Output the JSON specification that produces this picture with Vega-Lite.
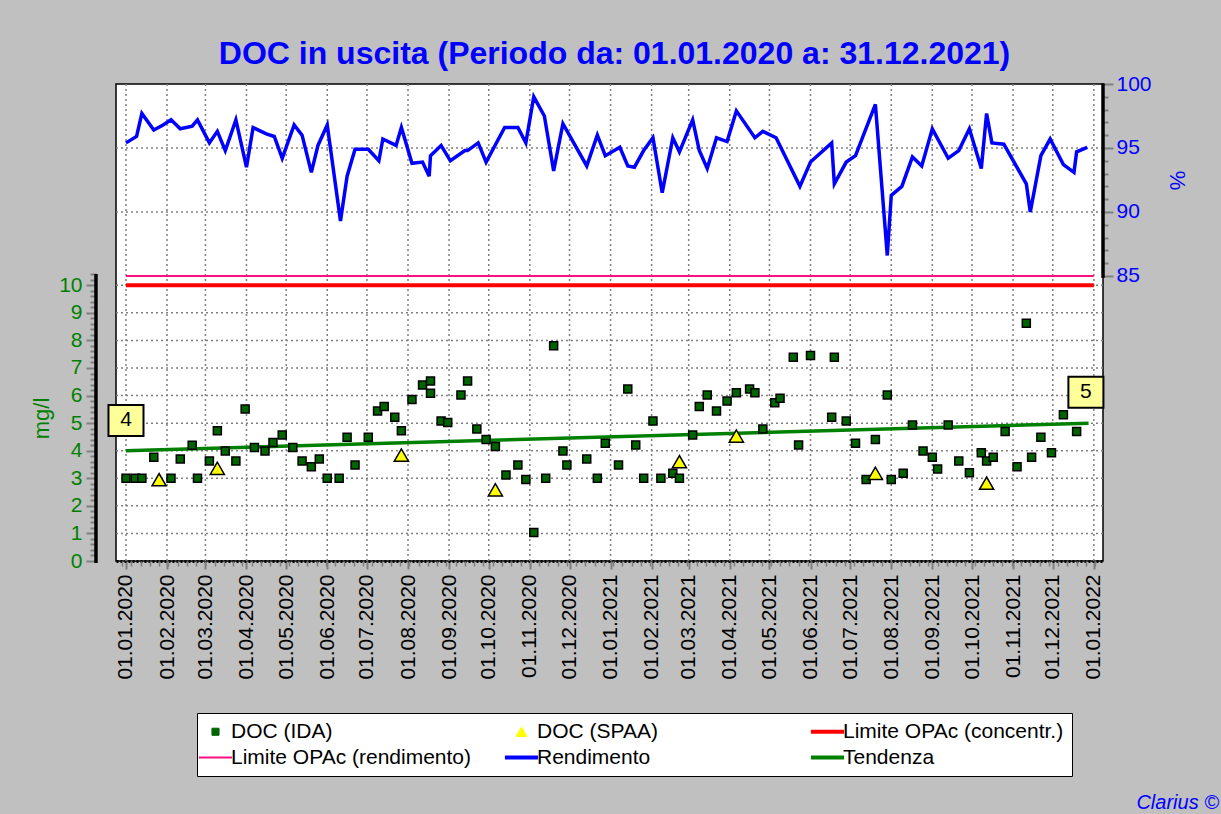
{
  "$schema": "https://vega.github.io/schema/vega-lite/v6.json",
  "width": 987,
  "height": 477,
  "autosize": {"type": "none"},
  "padding": {"left": 116, "top": 84, "right": 118, "bottom": 253},
  "background": "#c0c0c0",
  "config": {
    "view": {"stroke": "#000000", "strokeWidth": 1.5, "fill": "#ffffff"},
    "font": "Liberation Sans"
  },
  "title": {
    "text": "DOC in uscita (Periodo da: 01.01.2020 a: 31.12.2021)",
    "fontSize": 32,
    "fontWeight": "bold",
    "font": "Liberation Sans",
    "color": "#0000ff",
    "anchor": "middle",
    "offset": 2,
    "dx": 5
  },
  "datasets": {
    "ida": [
      {"date": "2020-01-01", "value": 3.0, "series": "DOC (IDA)"},
      {"date": "2020-01-08", "value": 3.0, "series": "DOC (IDA)"},
      {"date": "2020-01-13", "value": 3.0, "series": "DOC (IDA)"},
      {"date": "2020-01-22", "value": 3.76, "series": "DOC (IDA)"},
      {"date": "2020-02-04", "value": 3.0, "series": "DOC (IDA)"},
      {"date": "2020-02-11", "value": 3.7, "series": "DOC (IDA)"},
      {"date": "2020-02-20", "value": 4.2, "series": "DOC (IDA)"},
      {"date": "2020-02-24", "value": 3.0, "series": "DOC (IDA)"},
      {"date": "2020-03-04", "value": 3.63, "series": "DOC (IDA)"},
      {"date": "2020-03-10", "value": 4.72, "series": "DOC (IDA)"},
      {"date": "2020-03-16", "value": 3.99, "series": "DOC (IDA)"},
      {"date": "2020-03-24", "value": 3.63, "series": "DOC (IDA)"},
      {"date": "2020-03-31", "value": 5.51, "series": "DOC (IDA)"},
      {"date": "2020-04-07", "value": 4.12, "series": "DOC (IDA)"},
      {"date": "2020-04-15", "value": 3.99, "series": "DOC (IDA)"},
      {"date": "2020-04-21", "value": 4.3, "series": "DOC (IDA)"},
      {"date": "2020-04-28", "value": 4.57, "series": "DOC (IDA)"},
      {"date": "2020-05-06", "value": 4.12, "series": "DOC (IDA)"},
      {"date": "2020-05-13", "value": 3.63, "series": "DOC (IDA)"},
      {"date": "2020-05-20", "value": 3.42, "series": "DOC (IDA)"},
      {"date": "2020-05-26", "value": 3.7, "series": "DOC (IDA)"},
      {"date": "2020-06-01", "value": 3.0, "series": "DOC (IDA)"},
      {"date": "2020-06-10", "value": 3.0, "series": "DOC (IDA)"},
      {"date": "2020-06-16", "value": 4.49, "series": "DOC (IDA)"},
      {"date": "2020-06-22", "value": 3.48, "series": "DOC (IDA)"},
      {"date": "2020-07-02", "value": 4.49, "series": "DOC (IDA)"},
      {"date": "2020-07-09", "value": 5.44, "series": "DOC (IDA)"},
      {"date": "2020-07-14", "value": 5.6, "series": "DOC (IDA)"},
      {"date": "2020-07-22", "value": 5.21, "series": "DOC (IDA)"},
      {"date": "2020-07-27", "value": 4.72, "series": "DOC (IDA)"},
      {"date": "2020-08-04", "value": 5.86, "series": "DOC (IDA)"},
      {"date": "2020-08-12", "value": 6.38, "series": "DOC (IDA)"},
      {"date": "2020-08-18", "value": 6.53, "series": "DOC (IDA)"},
      {"date": "2020-08-18", "value": 6.08, "series": "DOC (IDA)"},
      {"date": "2020-08-26", "value": 5.08, "series": "DOC (IDA)"},
      {"date": "2020-08-31", "value": 5.02, "series": "DOC (IDA)"},
      {"date": "2020-09-10", "value": 6.02, "series": "DOC (IDA)"},
      {"date": "2020-09-15", "value": 6.53, "series": "DOC (IDA)"},
      {"date": "2020-09-22", "value": 4.79, "series": "DOC (IDA)"},
      {"date": "2020-09-29", "value": 4.41, "series": "DOC (IDA)"},
      {"date": "2020-10-06", "value": 4.15, "series": "DOC (IDA)"},
      {"date": "2020-10-14", "value": 3.12, "series": "DOC (IDA)"},
      {"date": "2020-10-23", "value": 3.48, "series": "DOC (IDA)"},
      {"date": "2020-10-29", "value": 2.96, "series": "DOC (IDA)"},
      {"date": "2020-11-04", "value": 1.03, "series": "DOC (IDA)"},
      {"date": "2020-11-13", "value": 3.0, "series": "DOC (IDA)"},
      {"date": "2020-11-19", "value": 7.81, "series": "DOC (IDA)"},
      {"date": "2020-11-26", "value": 3.99, "series": "DOC (IDA)"},
      {"date": "2020-11-29", "value": 3.48, "series": "DOC (IDA)"},
      {"date": "2020-12-14", "value": 3.7, "series": "DOC (IDA)"},
      {"date": "2020-12-22", "value": 3.0, "series": "DOC (IDA)"},
      {"date": "2020-12-28", "value": 4.27, "series": "DOC (IDA)"},
      {"date": "2021-01-07", "value": 3.48, "series": "DOC (IDA)"},
      {"date": "2021-01-14", "value": 6.24, "series": "DOC (IDA)"},
      {"date": "2021-01-20", "value": 4.21, "series": "DOC (IDA)"},
      {"date": "2021-01-26", "value": 3.0, "series": "DOC (IDA)"},
      {"date": "2021-02-02", "value": 5.08, "series": "DOC (IDA)"},
      {"date": "2021-02-08", "value": 3.0, "series": "DOC (IDA)"},
      {"date": "2021-02-17", "value": 3.18, "series": "DOC (IDA)"},
      {"date": "2021-02-22", "value": 3.0, "series": "DOC (IDA)"},
      {"date": "2021-03-04", "value": 4.57, "series": "DOC (IDA)"},
      {"date": "2021-03-09", "value": 5.6, "series": "DOC (IDA)"},
      {"date": "2021-03-15", "value": 6.02, "series": "DOC (IDA)"},
      {"date": "2021-03-22", "value": 5.44, "series": "DOC (IDA)"},
      {"date": "2021-03-30", "value": 5.8, "series": "DOC (IDA)"},
      {"date": "2021-04-06", "value": 6.1, "series": "DOC (IDA)"},
      {"date": "2021-04-16", "value": 6.24, "series": "DOC (IDA)"},
      {"date": "2021-04-20", "value": 6.1, "series": "DOC (IDA)"},
      {"date": "2021-04-26", "value": 4.79, "series": "DOC (IDA)"},
      {"date": "2021-05-05", "value": 5.74, "series": "DOC (IDA)"},
      {"date": "2021-05-09", "value": 5.9, "series": "DOC (IDA)"},
      {"date": "2021-05-19", "value": 7.39, "series": "DOC (IDA)"},
      {"date": "2021-05-23", "value": 4.21, "series": "DOC (IDA)"},
      {"date": "2021-06-01", "value": 7.45, "series": "DOC (IDA)"},
      {"date": "2021-06-17", "value": 5.21, "series": "DOC (IDA)"},
      {"date": "2021-06-19", "value": 7.39, "series": "DOC (IDA)"},
      {"date": "2021-06-28", "value": 5.08, "series": "DOC (IDA)"},
      {"date": "2021-07-05", "value": 4.27, "series": "DOC (IDA)"},
      {"date": "2021-07-13", "value": 2.96, "series": "DOC (IDA)"},
      {"date": "2021-07-20", "value": 4.41, "series": "DOC (IDA)"},
      {"date": "2021-07-29", "value": 6.02, "series": "DOC (IDA)"},
      {"date": "2021-08-01", "value": 2.96, "series": "DOC (IDA)"},
      {"date": "2021-08-10", "value": 3.18, "series": "DOC (IDA)"},
      {"date": "2021-08-17", "value": 4.93, "series": "DOC (IDA)"},
      {"date": "2021-08-25", "value": 3.99, "series": "DOC (IDA)"},
      {"date": "2021-09-01", "value": 3.76, "series": "DOC (IDA)"},
      {"date": "2021-09-05", "value": 3.34, "series": "DOC (IDA)"},
      {"date": "2021-09-13", "value": 4.93, "series": "DOC (IDA)"},
      {"date": "2021-09-21", "value": 3.63, "series": "DOC (IDA)"},
      {"date": "2021-09-29", "value": 3.2, "series": "DOC (IDA)"},
      {"date": "2021-10-08", "value": 3.93, "series": "DOC (IDA)"},
      {"date": "2021-10-12", "value": 3.63, "series": "DOC (IDA)"},
      {"date": "2021-10-17", "value": 3.76, "series": "DOC (IDA)"},
      {"date": "2021-10-26", "value": 4.7, "series": "DOC (IDA)"},
      {"date": "2021-11-04", "value": 3.42, "series": "DOC (IDA)"},
      {"date": "2021-11-11", "value": 8.62, "series": "DOC (IDA)"},
      {"date": "2021-11-15", "value": 3.76, "series": "DOC (IDA)"},
      {"date": "2021-11-22", "value": 4.49, "series": "DOC (IDA)"},
      {"date": "2021-11-30", "value": 3.93, "series": "DOC (IDA)"},
      {"date": "2021-12-09", "value": 5.3, "series": "DOC (IDA)"},
      {"date": "2021-12-19", "value": 4.7, "series": "DOC (IDA)"}
    ],
    "spaa": [
      {"date": "2020-01-26", "value": 2.95, "series": "DOC (SPAA)"},
      {"date": "2020-03-10", "value": 3.36, "series": "DOC (SPAA)"},
      {"date": "2020-07-27", "value": 3.84, "series": "DOC (SPAA)"},
      {"date": "2020-10-06", "value": 2.58, "series": "DOC (SPAA)"},
      {"date": "2021-02-22", "value": 3.6, "series": "DOC (SPAA)"},
      {"date": "2021-04-06", "value": 4.53, "series": "DOC (SPAA)"},
      {"date": "2021-07-20", "value": 3.18, "series": "DOC (SPAA)"},
      {"date": "2021-10-12", "value": 2.82, "series": "DOC (SPAA)"}
    ],
    "rend": [
      {"date": "2020-01-01", "value": 95.4, "series": "Rendimento"},
      {"date": "2020-01-09", "value": 95.9, "series": "Rendimento"},
      {"date": "2020-01-13", "value": 97.7, "series": "Rendimento"},
      {"date": "2020-01-22", "value": 96.4, "series": "Rendimento"},
      {"date": "2020-01-29", "value": 96.8, "series": "Rendimento"},
      {"date": "2020-02-04", "value": 97.2, "series": "Rendimento"},
      {"date": "2020-02-11", "value": 96.5, "series": "Rendimento"},
      {"date": "2020-02-20", "value": 96.7, "series": "Rendimento"},
      {"date": "2020-02-24", "value": 97.2, "series": "Rendimento"},
      {"date": "2020-03-04", "value": 95.4, "series": "Rendimento"},
      {"date": "2020-03-10", "value": 96.3, "series": "Rendimento"},
      {"date": "2020-03-16", "value": 94.8, "series": "Rendimento"},
      {"date": "2020-03-24", "value": 97.2, "series": "Rendimento"},
      {"date": "2020-04-01", "value": 93.5, "series": "Rendimento"},
      {"date": "2020-04-06", "value": 96.6, "series": "Rendimento"},
      {"date": "2020-04-16", "value": 96.1, "series": "Rendimento"},
      {"date": "2020-04-22", "value": 95.9, "series": "Rendimento"},
      {"date": "2020-04-28", "value": 94.2, "series": "Rendimento"},
      {"date": "2020-05-07", "value": 96.8, "series": "Rendimento"},
      {"date": "2020-05-13", "value": 96.0, "series": "Rendimento"},
      {"date": "2020-05-20", "value": 93.1, "series": "Rendimento"},
      {"date": "2020-05-25", "value": 95.2, "series": "Rendimento"},
      {"date": "2020-06-01", "value": 96.8, "series": "Rendimento"},
      {"date": "2020-06-11", "value": 89.3, "series": "Rendimento"},
      {"date": "2020-06-16", "value": 92.8, "series": "Rendimento"},
      {"date": "2020-06-22", "value": 94.9, "series": "Rendimento"},
      {"date": "2020-07-02", "value": 94.9, "series": "Rendimento"},
      {"date": "2020-07-10", "value": 94.0, "series": "Rendimento"},
      {"date": "2020-07-13", "value": 95.7, "series": "Rendimento"},
      {"date": "2020-07-23", "value": 95.2, "series": "Rendimento"},
      {"date": "2020-07-27", "value": 96.6, "series": "Rendimento"},
      {"date": "2020-08-04", "value": 93.8, "series": "Rendimento"},
      {"date": "2020-08-12", "value": 93.9, "series": "Rendimento"},
      {"date": "2020-08-17", "value": 92.8, "series": "Rendimento"},
      {"date": "2020-08-18", "value": 94.4, "series": "Rendimento"},
      {"date": "2020-08-26", "value": 95.2, "series": "Rendimento"},
      {"date": "2020-09-02", "value": 94.0, "series": "Rendimento"},
      {"date": "2020-09-13", "value": 94.8, "series": "Rendimento"},
      {"date": "2020-09-15", "value": 94.8, "series": "Rendimento"},
      {"date": "2020-09-23", "value": 95.4, "series": "Rendimento"},
      {"date": "2020-09-29", "value": 93.9, "series": "Rendimento"},
      {"date": "2020-10-13", "value": 96.6, "series": "Rendimento"},
      {"date": "2020-10-23", "value": 96.6, "series": "Rendimento"},
      {"date": "2020-10-29", "value": 95.4, "series": "Rendimento"},
      {"date": "2020-11-04", "value": 99.0, "series": "Rendimento"},
      {"date": "2020-11-12", "value": 97.5, "series": "Rendimento"},
      {"date": "2020-11-19", "value": 93.2, "series": "Rendimento"},
      {"date": "2020-11-26", "value": 96.9, "series": "Rendimento"},
      {"date": "2020-12-14", "value": 93.6, "series": "Rendimento"},
      {"date": "2020-12-22", "value": 96.0, "series": "Rendimento"},
      {"date": "2020-12-28", "value": 94.4, "series": "Rendimento"},
      {"date": "2021-01-08", "value": 95.05, "series": "Rendimento"},
      {"date": "2021-01-14", "value": 93.6, "series": "Rendimento"},
      {"date": "2021-01-19", "value": 93.5, "series": "Rendimento"},
      {"date": "2021-01-26", "value": 94.8, "series": "Rendimento"},
      {"date": "2021-02-02", "value": 95.8, "series": "Rendimento"},
      {"date": "2021-02-09", "value": 91.5, "series": "Rendimento"},
      {"date": "2021-02-17", "value": 95.8, "series": "Rendimento"},
      {"date": "2021-02-22", "value": 94.7, "series": "Rendimento"},
      {"date": "2021-03-04", "value": 97.2, "series": "Rendimento"},
      {"date": "2021-03-09", "value": 94.8, "series": "Rendimento"},
      {"date": "2021-03-15", "value": 93.4, "series": "Rendimento"},
      {"date": "2021-03-22", "value": 95.8, "series": "Rendimento"},
      {"date": "2021-03-30", "value": 95.5, "series": "Rendimento"},
      {"date": "2021-04-06", "value": 97.9, "series": "Rendimento"},
      {"date": "2021-04-20", "value": 95.8, "series": "Rendimento"},
      {"date": "2021-04-26", "value": 96.3, "series": "Rendimento"},
      {"date": "2021-05-06", "value": 95.8, "series": "Rendimento"},
      {"date": "2021-05-24", "value": 92.0, "series": "Rendimento"},
      {"date": "2021-06-01", "value": 93.9, "series": "Rendimento"},
      {"date": "2021-06-17", "value": 95.4, "series": "Rendimento"},
      {"date": "2021-06-19", "value": 92.2, "series": "Rendimento"},
      {"date": "2021-06-28", "value": 93.9, "series": "Rendimento"},
      {"date": "2021-07-05", "value": 94.4, "series": "Rendimento"},
      {"date": "2021-07-20", "value": 98.4, "series": "Rendimento"},
      {"date": "2021-07-29", "value": 86.6, "series": "Rendimento"},
      {"date": "2021-08-01", "value": 91.3, "series": "Rendimento"},
      {"date": "2021-08-09", "value": 92.0, "series": "Rendimento"},
      {"date": "2021-08-17", "value": 94.3, "series": "Rendimento"},
      {"date": "2021-08-24", "value": 93.6, "series": "Rendimento"},
      {"date": "2021-09-01", "value": 96.5, "series": "Rendimento"},
      {"date": "2021-09-13", "value": 94.2, "series": "Rendimento"},
      {"date": "2021-09-21", "value": 94.8, "series": "Rendimento"},
      {"date": "2021-09-29", "value": 96.5, "series": "Rendimento"},
      {"date": "2021-10-08", "value": 93.4, "series": "Rendimento"},
      {"date": "2021-10-12", "value": 97.7, "series": "Rendimento"},
      {"date": "2021-10-16", "value": 95.4, "series": "Rendimento"},
      {"date": "2021-10-25", "value": 95.3, "series": "Rendimento"},
      {"date": "2021-11-11", "value": 92.2, "series": "Rendimento"},
      {"date": "2021-11-14", "value": 90.0, "series": "Rendimento"},
      {"date": "2021-11-22", "value": 94.4, "series": "Rendimento"},
      {"date": "2021-11-29", "value": 95.7, "series": "Rendimento"},
      {"date": "2021-12-09", "value": 93.7, "series": "Rendimento"},
      {"date": "2021-12-17", "value": 93.1, "series": "Rendimento"},
      {"date": "2021-12-19", "value": 94.7, "series": "Rendimento"},
      {"date": "2021-12-27", "value": 95.05, "series": "Rendimento"}
    ],
    "lim_c": [
      {"date": "2020-01-01", "value": 10, "series": "Limite OPAc (concentr.)"},
      {"date": "2022-01-01", "value": 10, "series": "Limite OPAc (concentr.)"}
    ],
    "lim_r": [
      {"date": "2020-01-01", "value": 85, "series": "Limite OPAc (rendimento)"},
      {"date": "2022-01-01", "value": 85, "series": "Limite OPAc (rendimento)"}
    ],
    "trend": [
      {"date": "2020-01-01", "value": 4.0, "series": "Tendenza"},
      {"date": "2021-12-28", "value": 5.0, "series": "Tendenza"}
    ],
    "boxes": [
      {"date": "2020-01-01", "value": 5.1, "label": "4"},
      {"date": "2021-12-26", "value": 6.12, "label": "5"}
    ],
    "grid_v": [
      {"date": "2020-01-01", "value": 0, "g": "m01"}, {"date": "2020-01-01", "value": 17.3, "g": "m01"},
      {"date": "2020-02-01", "value": 0, "g": "m02"}, {"date": "2020-02-01", "value": 17.3, "g": "m02"},
      {"date": "2020-03-01", "value": 0, "g": "m03"}, {"date": "2020-03-01", "value": 17.3, "g": "m03"},
      {"date": "2020-04-01", "value": 0, "g": "m04"}, {"date": "2020-04-01", "value": 17.3, "g": "m04"},
      {"date": "2020-05-01", "value": 0, "g": "m05"}, {"date": "2020-05-01", "value": 17.3, "g": "m05"},
      {"date": "2020-06-01", "value": 0, "g": "m06"}, {"date": "2020-06-01", "value": 17.3, "g": "m06"},
      {"date": "2020-07-01", "value": 0, "g": "m07"}, {"date": "2020-07-01", "value": 17.3, "g": "m07"},
      {"date": "2020-08-01", "value": 0, "g": "m08"}, {"date": "2020-08-01", "value": 17.3, "g": "m08"},
      {"date": "2020-09-01", "value": 0, "g": "m09"}, {"date": "2020-09-01", "value": 17.3, "g": "m09"},
      {"date": "2020-10-01", "value": 0, "g": "m10"}, {"date": "2020-10-01", "value": 17.3, "g": "m10"},
      {"date": "2020-11-01", "value": 0, "g": "m11"}, {"date": "2020-11-01", "value": 17.3, "g": "m11"},
      {"date": "2020-12-01", "value": 0, "g": "m12"}, {"date": "2020-12-01", "value": 17.3, "g": "m12"},
      {"date": "2021-01-01", "value": 0, "g": "m13"}, {"date": "2021-01-01", "value": 17.3, "g": "m13"},
      {"date": "2021-02-01", "value": 0, "g": "m14"}, {"date": "2021-02-01", "value": 17.3, "g": "m14"},
      {"date": "2021-03-01", "value": 0, "g": "m15"}, {"date": "2021-03-01", "value": 17.3, "g": "m15"},
      {"date": "2021-04-01", "value": 0, "g": "m16"}, {"date": "2021-04-01", "value": 17.3, "g": "m16"},
      {"date": "2021-05-01", "value": 0, "g": "m17"}, {"date": "2021-05-01", "value": 17.3, "g": "m17"},
      {"date": "2021-06-01", "value": 0, "g": "m18"}, {"date": "2021-06-01", "value": 17.3, "g": "m18"},
      {"date": "2021-07-01", "value": 0, "g": "m19"}, {"date": "2021-07-01", "value": 17.3, "g": "m19"},
      {"date": "2021-08-01", "value": 0, "g": "m20"}, {"date": "2021-08-01", "value": 17.3, "g": "m20"},
      {"date": "2021-09-01", "value": 0, "g": "m21"}, {"date": "2021-09-01", "value": 17.3, "g": "m21"},
      {"date": "2021-10-01", "value": 0, "g": "m22"}, {"date": "2021-10-01", "value": 17.3, "g": "m22"},
      {"date": "2021-11-01", "value": 0, "g": "m23"}, {"date": "2021-11-01", "value": 17.3, "g": "m23"},
      {"date": "2021-12-01", "value": 0, "g": "m24"}, {"date": "2021-12-01", "value": 17.3, "g": "m24"},
      {"date": "2022-01-01", "value": 0, "g": "m25"}, {"date": "2022-01-01", "value": 17.3, "g": "m25"}
    ],
    "grid_h": [
      {"date": "2019-12-24T11:00:00Z", "value": 1, "g": "h1"}, {"date": "2022-01-07T22:00:00Z", "value": 1, "g": "h1"},
      {"date": "2019-12-24T11:00:00Z", "value": 2, "g": "h2"}, {"date": "2022-01-07T22:00:00Z", "value": 2, "g": "h2"},
      {"date": "2019-12-24T11:00:00Z", "value": 3, "g": "h3"}, {"date": "2022-01-07T22:00:00Z", "value": 3, "g": "h3"},
      {"date": "2019-12-24T11:00:00Z", "value": 4, "g": "h4"}, {"date": "2022-01-07T22:00:00Z", "value": 4, "g": "h4"},
      {"date": "2019-12-24T11:00:00Z", "value": 5, "g": "h5"}, {"date": "2022-01-07T22:00:00Z", "value": 5, "g": "h5"},
      {"date": "2019-12-24T11:00:00Z", "value": 6, "g": "h6"}, {"date": "2022-01-07T22:00:00Z", "value": 6, "g": "h6"},
      {"date": "2019-12-24T11:00:00Z", "value": 7, "g": "h7"}, {"date": "2022-01-07T22:00:00Z", "value": 7, "g": "h7"},
      {"date": "2019-12-24T11:00:00Z", "value": 8, "g": "h8"}, {"date": "2022-01-07T22:00:00Z", "value": 8, "g": "h8"},
      {"date": "2019-12-24T11:00:00Z", "value": 9, "g": "h9"}, {"date": "2022-01-07T22:00:00Z", "value": 9, "g": "h9"},
      {"date": "2019-12-24T11:00:00Z", "value": 10, "g": "h10"}, {"date": "2022-01-07T22:00:00Z", "value": 10, "g": "h10"}
    ],
    "grid_p": [
      {"date": "2019-12-24T11:00:00Z", "value": 90, "g": "p90"}, {"date": "2022-01-07T22:00:00Z", "value": 90, "g": "p90"},
      {"date": "2019-12-24T11:00:00Z", "value": 95, "g": "p95"}, {"date": "2022-01-07T22:00:00Z", "value": 95, "g": "p95"}
    ],
    "one": [{}]
  },
  "layer": [
    {
      "layer": [
        {
          "data": {"name": "grid_v"},
          "mark": {"type": "line", "color": "#808080", "strokeWidth": 1.5, "strokeDash": [2, 3]},
          "encoding": {
            "x": {"field": "date", "type": "temporal", "axis": null},
            "y": {"field": "value", "type": "quantitative", "axis": null},
            "detail": {"field": "g", "type": "nominal"}
          }
        },
        {
          "data": {"name": "grid_h"},
          "mark": {"type": "line", "color": "#808080", "strokeWidth": 1.5, "strokeDash": [2, 3]},
          "encoding": {
            "x": {"field": "date", "type": "temporal", "axis": null},
            "y": {"field": "value", "type": "quantitative", "axis": null},
            "detail": {"field": "g", "type": "nominal"}
          }
        },
        {
          "data": {"name": "lim_c"},
          "mark": {"type": "line", "strokeWidth": 4},
          "encoding": {
            "x": {
              "field": "date", "type": "temporal",
              "scale": {"type": "utc", "domain": [{"year": 2019, "month": 12, "date": 24, "hours": 11, "utc": true}, {"year": 2022, "month": 1, "date": 7, "hours": 22, "utc": true}]},
              "axis": {
                "orient": "bottom", "tickCount": {"interval": "month", "step": 1}, "format": "%d.%m.%Y",
                "labelAngle": 270, "labelFontSize": 21, "labelColor": "#000000", "labelFont": "Liberation Sans", "labelPadding": 5,
                "tickSize": 8, "tickColor": "#808080", "tickWidth": 2, "grid": false,
                "domain": true, "domainColor": "#000000", "domainWidth": 3, "domainDash": [2, 2],
                "title": null, "labelOverlap": false, "labelFlush": false, "labelBound": false
              }
            },
            "y": {
              "field": "value", "type": "quantitative",
              "scale": {"domain": [0, 17.3], "nice": false, "zero": false},
              "axis": {
                "orient": "left", "offset": 20, "domain": false, "grid": false,
                "values": [0,0.2,0.4,0.6,0.8,1,1.2,1.4,1.6,1.8,2,2.2,2.4,2.6,2.8,3,3.2,3.4,3.6,3.8,4,4.2,4.4,4.6,4.8,5,5.2,5.4,5.6,5.8,6,6.2,6.4,6.6,6.8,7,7.2,7.4,7.6,7.8,8,8.2,8.4,8.6,8.8,9,9.2,9.4,9.6,9.8,10,10.2,10.4],
                "labelExpr": "abs(datum.value - round(datum.value)) < 0.01 ? '' + round(datum.value) : ''",
                "labelFontSize": 21, "labelColor": "#008000", "labelFont": "Liberation Sans", "labelPadding": 4,
                "labelOverlap": false, "labelFlush": false, "labelBound": false,
                "tickColor": "#808080", "tickWidth": 2,
                "tickSize": {"condition": {"test": "abs(datum.value - round(datum.value)) < 0.01", "value": 10}, "value": 6},
                "title": "mg/l", "titleFontSize": 22, "titleColor": "#008000", "titleFontWeight": "normal", "titleFont": "Liberation Sans",
                "titlePadding": 5, "titleY": 334
              }
            },
            "color": {
              "field": "series", "type": "nominal",
              "scale": {
                "domain": ["DOC (IDA)", "Limite OPAc (rendimento)", "DOC (SPAA)", "Rendimento", "Limite OPAc (concentr.)", "Tendenza"],
                "range": ["#006400", "#ff1080", "#ffff00", "#0000ff", "#ff0000", "#008000"]
              },
              "legend": {
                "orient": "none", "legendX": 81, "legendY": 629, "columns": 3, "title": null,
                "labelFontSize": 21, "labelFont": "Liberation Sans", "labelColor": "#000000", "labelLimit": 400,
                "symbolSize": 1100, "gridAlign": "all", "columnPadding": 24, "rowPadding": 4, "padding": 8,
                "strokeColor": "#000000", "fillColor": "#ffffff", "labelOffset": 5,
                "encode": {
                  "symbols": {
                    "update": {
                      "shape": {"signal": "datum.value === 'DOC (IDA)' ? 'square' : datum.value === 'DOC (SPAA)' ? 'triangle-up' : 'stroke'"},
                      "size": {"signal": "datum.value === 'DOC (IDA)' ? 50 : datum.value === 'DOC (SPAA)' ? 120 : 1100"},
                      "fill": {"signal": "datum.value === 'DOC (IDA)' ? '#006400' : datum.value === 'DOC (SPAA)' ? '#ffff00' : 'transparent'"},
                      "stroke": {"signal": "datum.value === 'DOC (IDA)' || datum.value === 'DOC (SPAA)' ? '#000000' : datum.value === 'Limite OPAc (concentr.)' ? '#ff0000' : datum.value === 'Limite OPAc (rendimento)' ? '#ff1080' : datum.value === 'Rendimento' ? '#0000ff' : '#008000'"},
                      "strokeWidth": {"signal": "datum.value === 'DOC (IDA)' || datum.value === 'DOC (SPAA)' ? 1 : datum.value === 'Limite OPAc (rendimento)' ? 2 : 4"},
                      "opacity": {"value": 1}
                    }
                  }
                }
              }
            }
          }
        },
        {
          "data": {"name": "trend"},
          "mark": {"type": "line", "strokeWidth": 3.5},
          "encoding": {
            "x": {"field": "date", "type": "temporal", "axis": null},
            "y": {"field": "value", "type": "quantitative", "axis": null},
            "color": {"field": "series", "type": "nominal"}
          }
        },
        {
          "data": {"name": "ida"},
          "mark": {"type": "point", "shape": "square", "filled": true, "size": 64, "stroke": "#000000", "strokeWidth": 1.5, "opacity": 1},
          "encoding": {
            "x": {"field": "date", "type": "temporal", "axis": null},
            "y": {"field": "value", "type": "quantitative", "axis": null},
            "color": {"field": "series", "type": "nominal"}
          }
        },
        {
          "data": {"name": "spaa"},
          "mark": {"type": "point", "shape": "triangle-up", "filled": true, "size": 200, "stroke": "#000000", "strokeWidth": 1.5, "opacity": 1},
          "encoding": {
            "x": {"field": "date", "type": "temporal", "axis": null},
            "y": {"field": "value", "type": "quantitative", "axis": null},
            "color": {"field": "series", "type": "nominal"}
          }
        },
        {
          "data": {"name": "one"},
          "mark": {"type": "rule", "color": "#000000", "strokeWidth": 3.5},
          "encoding": {
            "x": {"datum": {"year": 2019, "month": 12, "date": 9, "hours": 8, "utc": true}, "type": "temporal", "axis": null},
            "y": {"datum": -0.07, "type": "quantitative", "axis": null},
            "y2": {"datum": 10.41}
          }
        },
        {
          "data": {"name": "boxes"},
          "mark": {"type": "point", "shape": "M-1.13,-1H1.13V1H-1.13Z", "filled": true, "size": 961, "fill": "#ffff99", "stroke": "#000000", "strokeWidth": 2, "opacity": 1},
          "encoding": {
            "x": {"field": "date", "type": "temporal", "axis": null},
            "y": {"field": "value", "type": "quantitative", "axis": null}
          }
        },
        {
          "data": {"name": "boxes"},
          "mark": {"type": "text", "fontSize": 21, "font": "Liberation Sans", "color": "#000000", "align": "center", "baseline": "middle"},
          "encoding": {
            "x": {"field": "date", "type": "temporal", "axis": null},
            "y": {"field": "value", "type": "quantitative", "axis": null},
            "text": {"field": "label"}
          }
        },
        {
          "data": {"name": "one"},
          "mark": {"type": "text", "fontSize": 20, "font": "Liberation Sans", "fontStyle": "italic", "color": "#0000ff", "align": "right", "baseline": "middle"},
          "encoding": {
            "x": {"datum": {"year": 2022, "month": 4, "date": 5, "hours": 12, "utc": true}, "type": "temporal", "axis": null},
            "y": {"datum": -8.78, "type": "quantitative", "axis": null},
            "text": {"value": "Clarius ©"}
          }
        }
      ],
      "resolve": {"axis": {"x": "independent", "y": "independent"}}
    },
    {
      "layer": [
        {
          "data": {"name": "grid_p"},
          "mark": {"type": "line", "color": "#808080", "strokeWidth": 1.5, "strokeDash": [2, 3]},
          "encoding": {
            "x": {"field": "date", "type": "temporal", "axis": null},
            "y": {"field": "value", "type": "quantitative", "axis": null, "scale": {"domain": [62.73, 100], "nice": false, "zero": false}},
            "detail": {"field": "g", "type": "nominal"}
          }
        },
        {
          "data": {"name": "lim_r"},
          "mark": {"type": "line", "strokeWidth": 2},
          "encoding": {
            "x": {
              "field": "date", "type": "temporal",
              "axis": {
                "orient": "bottom", "tickCount": {"interval": "week", "step": 1}, "labels": false, "grid": false,
                "domain": false, "tickSize": 5, "tickColor": "#808080", "tickWidth": 1.5, "title": null
              }
            },
            "y": {
              "field": "value", "type": "quantitative",
              "scale": {"domain": [62.73, 100], "nice": false, "zero": false},
              "axis": {
                "orient": "right", "domain": false, "grid": false,
                "values": [85,86,87,88,89,90,91,92,93,94,95,96,97,98,99,100],
                "labelExpr": "datum.value % 5 === 0 ? '' + datum.value : ''",
                "labelFontSize": 21, "labelColor": "#0000ff", "labelFont": "Liberation Sans", "labelPadding": 3,
                "labelOverlap": false, "labelFlush": false, "labelBound": false,
                "tickColor": "#808080", "tickWidth": 2,
                "tickSize": {"condition": {"test": "datum.value % 5 === 0", "value": 10}, "value": 5},
                "title": "%", "titleFontSize": 22, "titleColor": "#0000ff", "titleFontWeight": "normal", "titleFont": "Liberation Sans",
                "titlePadding": 13, "titleY": 96
              }
            },
            "color": {"field": "series", "type": "nominal"}
          }
        },
        {
          "data": {"name": "rend"},
          "mark": {"type": "line", "strokeWidth": 3.5},
          "encoding": {
            "x": {"field": "date", "type": "temporal", "axis": null},
            "y": {"field": "value", "type": "quantitative", "axis": null},
            "color": {"field": "series", "type": "nominal"}
          }
        },
        {
          "data": {"name": "one"},
          "mark": {"type": "rule", "color": "#000000", "strokeWidth": 3.5},
          "encoding": {
            "x": {"datum": {"year": 2022, "month": 1, "date": 7, "hours": 22, "utc": true}, "type": "temporal", "axis": null},
            "y": {"datum": 84.85, "type": "quantitative", "axis": null},
            "y2": {"datum": 100.05}
          }
        }
      ],
      "resolve": {"axis": {"x": "independent", "y": "independent"}}
    }
  ],
  "resolve": {"scale": {"y": "independent"}, "axis": {"x": "independent", "y": "independent"}}
}
